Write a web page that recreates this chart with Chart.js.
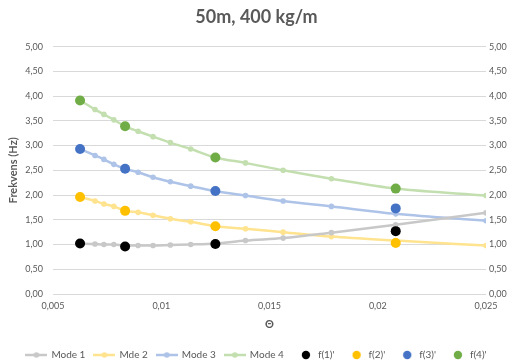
<!DOCTYPE html>
<html>
<head>
<meta charset="utf-8">
<script src="https://cdn.jsdelivr.net/npm/chart.js@4"></script>
<style>
  html, body { margin: 0; padding: 0; background: #fff; }
  #wrap { width: 513px; height: 360px; }
</style>
</head>
<body>
<div id="wrap"><canvas id="chart" width="513" height="360"></canvas></div>
<script>
// Theta values along the x axis (shared by all four mode curves).
var theta = [0.00625, 0.00694, 0.00735, 0.00781, 0.00833, 0.00893, 0.00962, 0.01042,
             0.01136, 0.0125, 0.01389, 0.01563, 0.01786, 0.02083, 0.025];
var mode1 = [1.02, 1.01, 1.00, 1.00, 0.98, 0.98, 0.98, 0.99, 1.00, 1.02, 1.08, 1.13, 1.24, 1.40, 1.64];
var mode2 = [1.96, 1.88, 1.82, 1.77, 1.68, 1.65, 1.59, 1.52, 1.46, 1.37, 1.32, 1.25, 1.16, 1.08, 0.98];
var mode3 = [2.93, 2.80, 2.72, 2.62, 2.53, 2.46, 2.36, 2.27, 2.18, 2.08, 1.99, 1.88, 1.77, 1.62, 1.48];
var mode4 = [3.91, 3.73, 3.63, 3.52, 3.39, 3.29, 3.18, 3.06, 2.93, 2.76, 2.65, 2.50, 2.33, 2.13, 1.99];

// Measured frequencies f(n)'
var thetaF = [0.00625, 0.00833, 0.0125, 0.02083];
var f1 = [1.02, 0.96, 1.01, 1.27];
var f2 = [1.96, 1.68, 1.37, 1.03];
var f3 = [2.93, 2.53, 2.08, 1.73];
var f4 = [3.91, 3.39, 2.76, 2.13];

var modeLabels = ['Mode 1', 'Mde 2', 'Mode 3', 'Mode 4'];
var fLabels = ["f(1)'", "f(2)'", "f(3)'", "f(4)'"];
var modeColours = ['#c8c8c8', '#ffe38f', '#aec3e8', '#c3dfb0'];
var fColours = ['#000000', '#ffc000', '#4472c4', '#70ad47'];

var yTicks = [0, 0.5, 1, 1.5, 2, 2.5, 3, 3.5, 4, 4.5, 5];

var textColour = '#595959';
var fontFamily = 'Lato, "Open Sans", sans-serif';

function pairs(xs, ys) {
    return xs.map(function(x, i) { return {x: x, y: ys[i]}; });
}

function commaNum(v, digits) {
    return v.toFixed(digits).replace('.', ',');
}

// Small legend icons: a line with a dot for the curves, a lone dot for the measurements.
function lineIcon(colour) {
    var c = document.createElement('canvas');
    c.width = 22; c.height = 10;
    var ctx = c.getContext('2d');
    ctx.strokeStyle = colour;
    ctx.lineWidth = 2.5;
    ctx.beginPath();
    ctx.moveTo(0, 5);
    ctx.lineTo(22, 5);
    ctx.stroke();
    ctx.fillStyle = colour;
    ctx.beginPath();
    ctx.arc(11, 5, 2.8, 0, Math.PI * 2);
    ctx.fill();
    return c;
}

function dotIcon(colour) {
    var c = document.createElement('canvas');
    c.width = 22; c.height = 10;
    var ctx = c.getContext('2d');
    ctx.fillStyle = colour;
    ctx.beginPath();
    ctx.arc(14, 5, 4.2, 0, Math.PI * 2);
    ctx.fill();
    return c;
}

var modeData = [mode1, mode2, mode3, mode4];
var fData = [f1, f2, f3, f4];
var icons = [];
var datasets = [];

modeData.forEach(function(vals, i) {
    datasets.push({
        label: modeLabels[i],
        data: pairs(theta, vals),
        showLine: true,
        borderColor: modeColours[i],
        backgroundColor: modeColours[i],
        borderWidth: 2.5,
        pointRadius: 2.8,
        pointBorderWidth: 0,
        cubicInterpolationMode: 'monotone',
        order: 2
    });
    icons.push(lineIcon(modeColours[i]));
});

fData.forEach(function(vals, i) {
    datasets.push({
        label: fLabels[i],
        data: pairs(thetaF, vals),
        showLine: false,
        borderColor: fColours[i],
        backgroundColor: fColours[i],
        pointRadius: 5,
        pointBorderWidth: 0,
        order: 1
    });
    icons.push(dotIcon(fColours[i]));
});

new Chart(document.getElementById('chart'), {
    type: 'scatter',
    data: {datasets: datasets},
    options: {
        responsive: false,
        animation: false,
        layout: {padding: {left: 0, right: 0, top: 0, bottom: -10}},
        scales: {
            x: {
                type: 'linear',
                min: 0.005,
                max: 0.025,
                ticks: {
                    stepSize: 0.005,
                    color: textColour,
                    font: {family: fontFamily, size: 9},
                    padding: 7,
                    callback: function(v) {
                        return String(Number(v.toFixed(3))).replace('.', ',');
                    }
                },
                grid: {display: false, drawTicks: false},
                border: {display: false},
                title: {
                    display: true,
                    text: 'Θ',
                    color: textColour,
                    font: {family: fontFamily, size: 11, weight: 'bold'},
                    padding: {top: 4, bottom: 10}
                },
                afterFit: function(scale) { scale.height = 47; }
            },
            y: {
                position: 'left',
                min: 0,
                max: 5,
                afterBuildTicks: function(scale) {
                    scale.ticks = yTicks.map(function(v) { return {value: v}; });
                },
                ticks: {
                    color: textColour,
                    font: {family: fontFamily, size: 9},
                    padding: 10,
                    callback: function(v) { return commaNum(v, 2); }
                },
                grid: {color: '#d9d9d9', lineWidth: 1, drawTicks: false},
                border: {display: false},
                title: {
                    display: true,
                    text: 'Frekvens (Hz)',
                    color: textColour,
                    font: {family: fontFamily, size: 11, weight: 'bold'},
                    padding: {top: 7, bottom: 4}
                },
                afterFit: function(scale) { scale.width = 53; }
            },
            y2: {
                position: 'right',
                min: 0,
                max: 5,
                afterBuildTicks: function(scale) {
                    scale.ticks = yTicks.map(function(v) { return {value: v}; });
                },
                ticks: {
                    color: textColour,
                    font: {family: fontFamily, size: 9},
                    padding: 3,
                    callback: function(v) { return commaNum(v, 2); }
                },
                grid: {display: false, drawTicks: false},
                border: {display: false},
                afterFit: function(scale) { scale.width = 27; }
            }
        },
        plugins: {
            title: {
                display: true,
                text: '50m, 400 kg/m',
                color: textColour,
                font: {family: fontFamily, size: 18, weight: 'bold'},
                padding: {top: 6, bottom: 19}
            },
            legend: {
                position: 'bottom',
                labels: {
                    color: textColour,
                    font: {family: fontFamily, size: 10},
                    usePointStyle: true,
                    pointStyleWidth: 20,
                    boxHeight: 10,
                    padding: 9,
                    sort: function(a, b) { return a.datasetIndex - b.datasetIndex; },
                    generateLabels: function(chart) {
                        var items = Chart.defaults.plugins.legend.labels.generateLabels(chart);
                        items.forEach(function(item) {
                            item.pointStyle = icons[item.datasetIndex];
                        });
                        return items;
                    }
                }
            },
            tooltip: {enabled: false}
        }
    }
});
</script>
</body>
</html>
